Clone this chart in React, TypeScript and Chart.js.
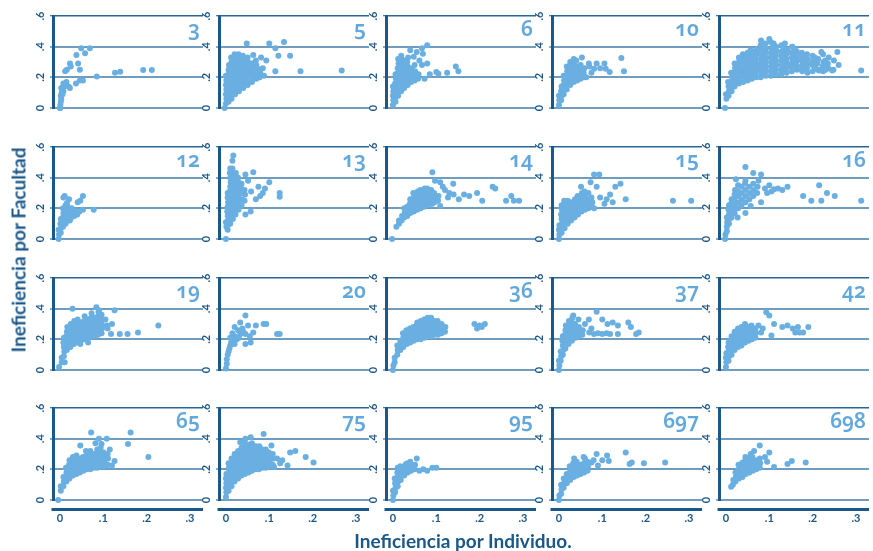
import React, { useEffect, useRef } from 'react';
import { Chart, registerables } from 'chart.js';

Chart.register(...registerables);

const NAVY = '#1b5788';
const TOPLINE = '#2a6596';
const STEEL = '#6f9dbf';
const DOT = '#6aafe1';
const LABEL = '#62a8dd';
const FONT = 'Lato, "Open Sans", "DejaVu Sans", sans-serif';
const LABEL_FONT = '"Noto Sans", "Open Sans", sans-serif';

const yTickValues = [0, 0.2, 0.4, 0.6];
const yTickLabels = ['0', '.2', '.4', '.6'];
const xTickValues = [0, 0.1, 0.2, 0.3];
const xTickLabels = ['0', '.1', '.2', '.3'];
const X_MIN = -0.016;
const X_MAX = 0.33;

const yTitle = 'Ineficiencia por Facultad';
const xTitle = 'Ineficiencia por Individuo.';

// each list: x, y, x, y, ...
const p3 = [0,0, .001,.02, .002,.04, .003,.06, .002,.08, .004,.1, .005,.12, .006,.13, .008,.11, .01,.14, .012,.15, .008,.16, .015,.17, .02,.14, .023,.13, .012,.24, .016,.25, .023,.29, .025,.27, .038,.345, .042,.29, .046,.25, .049,.39, .058,.357, .069,.39, .037,.16, .046,.18, .053,.18, .085,.205, .127,.23, .139,.237, .192,.248, .212,.248, .003,.13, .006,.09, .001,0];

const p5 = [-.003,0, 0,.03, .001,.06, 0,.09, .001,.12, 0,.15, .001,.18, 0,.21,
.006,.04, .006,.07, .007,.1, .006,.13, .005,.16, .007,.19, .006,.22, .006,.25, .007,.28,
.013,.06, .012,.09, .013,.12, .014,.15, .012,.18, .013,.21, .012,.24, .014,.27, .013,.3, .012,.33,
.021,.09, .02,.12, .021,.15, .022,.18, .02,.21, .021,.24, .02,.27, .022,.3, .021,.33, .02,.35,
.03,.11, .029,.14, .03,.17, .031,.2, .029,.23, .03,.26, .031,.29, .03,.32, .029,.35,
.04,.13, .039,.16, .041,.19, .04,.22, .039,.25, .041,.28, .04,.31, .039,.34,
.05,.15, .049,.18, .051,.21, .05,.24, .049,.27, .051,.3, .05,.33,
.06,.17, .061,.2, .059,.23, .06,.26, .061,.29,
.07,.19, .069,.22, .071,.25, .07,.28,
.078,.2, .079,.23,
.048,.42, .1,.42, .134,.43, .114,.39, .148,.34, .121,.34, .093,.31, .114,.24, .172,.24, .267,.245, .081,.33, .069,.31, .075,.255, .088,.21, .085,.26, .063,.345];

const p6 = [0,.02, .001,.05, 0,.08, .001,.11, 0,.14,
.006,.04, .006,.07, .007,.1, .006,.13, .005,.16, .007,.19, .006,.22,
.012,.08, .013,.11, .012,.14, .012,.17, .013,.2, .012,.23, .011,.26, .013,.29, .012,.32,
.019,.11, .02,.14, .019,.17, .018,.2, .02,.23, .019,.26, .019,.29, .02,.32, .019,.34,
.026,.13, .027,.16, .026,.19, .025,.22, .027,.25, .026,.28, .026,.31,
.034,.15, .033,.18, .035,.21, .034,.24, .034,.27, .033,.3, .035,.33,
.042,.17, .041,.2, .043,.23, .042,.26,
.05,.18, .049,.21, .051,.24, .05,.28,
.058,.19, .059,.22,
.079,.41, .067,.39, .055,.365, .04,.376, .069,.354, .061,.31, .079,.29, .067,.28, .1,.235, .105,.224, .125,.23, .145,.27, .151,.24, .073,.19, .048,.335, .085,.22];

const p10 = [0,.02, .001,.05, 0,.08,
.005,.05, .006,.08, .005,.11, .006,.14,
.011,.09, .012,.12, .011,.15, .012,.18, .011,.21,
.018,.12, .019,.15, .018,.18, .017,.21, .019,.24, .018,.27,
.026,.15, .025,.18, .027,.21, .026,.24, .025,.27, .026,.3,
.034,.17, .035,.2, .033,.23, .034,.26, .035,.29, .034,.32,
.042,.18, .041,.21, .043,.24, .042,.27,
.05,.19, .051,.22, .049,.25, .05,.28,
.058,.2, .057,.23, .059,.26,
.053,.33, .069,.29, .087,.29, .105,.29, .108,.256, .117,.235, .144,.326, .15,.24, .081,.256, .063,.2, .075,.23, .095,.26, .07,.27, .04,.31];

const p11 = [-.002,0, .001,.06, 0,.09,
.006,.08, .007,.11, .006,.14, .005,.17,
.013,.11, .012,.14, .013,.17, .014,.2, .012,.23,
.02,.14, .021,.17, .02,.2, .019,.23, .021,.26, .02,.29,
.03,.16, .029,.19, .031,.22, .03,.25, .029,.28, .031,.31, .03,.33,
.04,.17, .041,.2, .039,.23, .04,.26, .041,.29, .04,.32, .039,.35,
.05,.18, .049,.21, .051,.24, .05,.27, .049,.3, .051,.33, .05,.36,
.06,.19, .061,.22, .059,.25, .06,.28, .061,.31, .06,.34, .059,.37,
.07,.2, .069,.23, .071,.26, .07,.29, .069,.32, .071,.35, .07,.38,
.08,.2, .081,.23, .079,.26, .08,.29, .081,.32, .08,.35, .079,.38, .08,.41,
.092,.21, .091,.24, .093,.27, .092,.3, .091,.33, .093,.36, .092,.39, .091,.42,
.104,.21, .103,.24, .105,.27, .104,.3, .103,.33, .105,.36, .104,.39, .103,.43,
.116,.22, .115,.25, .117,.28, .116,.31, .115,.34, .117,.37, .116,.4,
.128,.22, .127,.25, .129,.28, .128,.31, .127,.34, .129,.37, .128,.41,
.14,.23, .139,.26, .141,.29, .14,.32, .139,.35, .141,.38,
.152,.24, .151,.27, .153,.3, .152,.33, .151,.36, .153,.4,
.164,.25, .163,.28, .165,.31, .164,.34, .163,.37,
.176,.24, .175,.27, .177,.3, .176,.33, .175,.36,
.188,.23, .187,.26, .189,.29, .188,.32, .187,.35,
.2,.24, .199,.28, .201,.31, .2,.34,
.212,.25, .211,.29, .213,.32,
.224,.24, .223,.27, .225,.3, .224,.35,
.236,.26, .235,.29, .237,.33,
.248,.25, .249,.31,
.045,.22, .046,.25, .044,.28, .045,.31, .046,.34,
.065,.21, .066,.24, .064,.27, .065,.3, .066,.33, .064,.36,
.086,.22, .087,.25, .085,.28, .086,.31, .087,.34, .085,.37, .086,.4,
.11,.23, .111,.26, .109,.29, .11,.32, .111,.35, .109,.38, .11,.41,
.134,.24, .135,.27, .133,.3, .134,.33, .135,.36, .133,.39,
.158,.26, .159,.29, .157,.32, .158,.35, .159,.38,
.182,.25, .183,.28, .181,.31, .182,.34,
.206,.26, .207,.3, .205,.33,
.23,.25, .231,.28, .229,.31,
.081,.44, .1,.45, .11,.42, .136,.42, .153,.40, .057,.376, .22,.365, .257,.365, .312,.245, .245,.245, .215,.245, .26,.28];

const p12 = [-.003,0, -.002,.03, -.003,.06,
.002,.04, .002,.07, .001,.1, .002,.13,
.007,.08, .006,.11, .007,.14, .008,.17, .007,.2,
.013,.1, .012,.13, .013,.16, .014,.19, .013,.22,
.019,.12, .02,.15, .019,.18, .018,.21,
.026,.14, .025,.17, .027,.2,
.033,.15, .034,.18,
.011,.28, .021,.26, .041,.24, .053,.28, .047,.25, .053,.19, .078,.19, .023,.12, .008,.27, .016,.235, .04,.16, .045,.18];

const p13 = [0,0, .001,.08, 0,.11,
.004,.06, .004,.09, .005,.12, .004,.15, .003,.18, .004,.21, .005,.24, .004,.27, .004,.3,
.01,.1, .011,.13, .01,.16, .009,.19, .01,.22, .011,.25, .01,.28, .009,.31, .01,.34, .011,.37, .01,.4, .009,.43, .01,.46,
.016,.13, .017,.16, .016,.19, .015,.22, .016,.25, .017,.28, .016,.31, .015,.34, .016,.37, .017,.4, .016,.43, .015,.46, .015,.51, .017,.545,
.022,.16, .023,.19, .022,.22, .021,.25, .022,.28, .023,.31, .022,.34, .021,.37, .022,.4, .023,.43,
.029,.19, .03,.22, .029,.25, .028,.28, .029,.31, .03,.34, .029,.37, .028,.4,
.036,.22, .037,.26, .036,.3, .035,.33, .036,.36,
.043,.25, .044,.29, .043,.32,
.045,.42, .063,.435, .051,.38, .075,.34, .1,.37, .124,.30, .124,.275, .079,.28, .057,.18, .045,.16, .069,.26, .058,.31, .085,.3, .09,.33];

const p14 = [-.002,0, .008,.08,
.014,.1, .014,.12,
.02,.12, .021,.15,
.026,.14, .027,.17, .026,.2,
.033,.15, .034,.18, .033,.21,
.04,.17, .041,.2, .039,.23, .04,.26,
.048,.18, .047,.21, .049,.24, .048,.27, .047,.3,
.056,.19, .057,.22, .055,.25, .056,.28, .057,.31,
.064,.2, .063,.23, .065,.26, .064,.29, .063,.32,
.072,.21, .073,.24, .071,.27, .072,.3, .073,.33,
.08,.22, .079,.25, .081,.28, .08,.31, .079,.33,
.088,.23, .089,.26, .087,.29, .088,.32,
.096,.24, .097,.27, .095,.3,
.104,.25, .105,.28,
.091,.435, .097,.38, .109,.37, .139,.36, .164,.29, .176,.28, .194,.3, .206,.25, .23,.34, .236,.33, .261,.25, .273,.28, .279,.25, .291,.25, .127,.27, .109,.215, .091,.23, .152,.26, .12,.32, .13,.3, .14,.29, .115,.34];

const p15 = [0,0, .001,.03, 0,.06, .001,.09,
.006,.04, .006,.07, .007,.1, .006,.13, .005,.16, .007,.19, .006,.22,
.013,.07, .012,.1, .013,.13, .014,.16, .012,.19, .013,.22, .012,.25,
.02,.1, .021,.13, .02,.16, .019,.19, .021,.22, .02,.25,
.028,.12, .027,.15, .029,.18, .028,.21, .027,.24,
.036,.14, .037,.17, .035,.2, .036,.23, .037,.26,
.044,.16, .043,.19, .045,.22, .044,.25, .043,.28,
.052,.18, .053,.21, .051,.24, .052,.27, .053,.3,
.06,.19, .059,.22, .061,.25, .06,.28, .059,.31,
.068,.2, .069,.23, .067,.26, .068,.3,
.076,.21, .077,.24, .075,.27,
.081,.42, .093,.42, .073,.37, .087,.34, .13,.34, .142,.36, .118,.29, .124,.24, .154,.26, .263,.25, .305,.25, .105,.23, .081,.2, .051,.34, .095,.27, .11,.26];

const p16 = [-.002,0, -.001,.03,
.002,.05, .002,.08, .003,.11, .002,.14,
.007,.1, .008,.13, .007,.16, .006,.19, .007,.22,
.013,.14, .014,.17, .013,.2, .012,.23, .013,.26,
.02,.17, .021,.2, .02,.23, .019,.26, .02,.29, .021,.32,
.028,.2, .029,.24, .028,.28, .027,.31, .028,.35,
.036,.22, .037,.26, .036,.3, .035,.34,
.045,.24, .046,.28, .045,.32, .044,.36, .045,.38,
.054,.26, .055,.3, .054,.34,
.063,.28, .064,.32, .063,.36, .063,.43,
.072,.3, .073,.34,
.045,.47, .023,.39, .081,.42, .105,.31, .142,.34, .111,.325, .178,.28, .197,.25, .215,.35, .22,.25, .233,.30, .251,.28, .312,.25, .081,.24, .057,.215, .045,.17, .027,.14, .09,.33, .095,.3, .1,.35, .12,.33, .13,.32, .075,.38];

const p19 = [-.002,.02,
.004,.05, .004,.08,
.009,.09, .01,.12, .009,.15, .008,.18, .009,.21,
.016,.13, .017,.16, .016,.19, .015,.22, .016,.25, .017,.28,
.024,.15, .025,.18, .024,.21, .023,.24, .024,.27, .025,.3,
.032,.17, .033,.2, .032,.23, .031,.26, .032,.29, .033,.32,
.04,.18, .041,.21, .04,.24, .039,.27, .04,.3, .041,.33,
.048,.19, .049,.22, .048,.25, .047,.28, .048,.31,
.056,.2, .057,.23, .056,.26, .055,.29, .056,.32, .057,.35,
.064,.21, .065,.24, .064,.27, .063,.3, .064,.33,
.072,.22, .073,.25, .072,.28, .071,.31, .072,.34, .073,.37,
.08,.22, .081,.25, .08,.28, .079,.31, .08,.34,
.088,.23, .089,.26, .088,.29, .087,.32, .088,.35, .089,.38,
.096,.24, .097,.27, .096,.3, .095,.33, .096,.36,
.029,.40, .084,.41, .09,.39, .126,.39, .12,.30, .108,.29, .18,.245, .227,.29, .156,.235, .138,.235, .118,.235, .065,.18, .047,.17, .011,.05, .105,.33, .11,.27];

const p20 = [0,.01, .002,.04, .002,.07, .004,.1, .006,.12, .008,.14, .01,.16, .012,.18, .015,.2, .02,.22, .02,.28, .033,.31, .045,.355, .051,.29, .069,.29, .087,.30, .093,.30, .118,.235, .124,.235, .063,.245, .057,.18, .045,.17, .033,.235, .045,.235, .028,.26, .038,.27, .025,.2, .03,.21, .015,.24, .01,.21, .04,.25, .055,.22, .02,.17];

const p36 = [0,0, .001,.03,
.004,.05, .004,.08,
.01,.1, .011,.13, .01,.16,
.017,.13, .018,.16, .017,.19,
.024,.15, .025,.18, .024,.21, .023,.24,
.032,.17, .033,.2, .032,.23, .031,.26,
.04,.18, .041,.21, .04,.24, .039,.27,
.048,.19, .049,.22, .048,.25, .047,.28,
.056,.2, .057,.23, .056,.26, .055,.29, .056,.31,
.064,.2, .065,.23, .064,.26, .063,.29, .064,.32,
.072,.21, .073,.24, .072,.27, .071,.3, .072,.33,
.08,.22, .081,.25, .08,.28, .079,.31, .08,.34,
.088,.22, .089,.25, .088,.28, .087,.31, .088,.34,
.096,.23, .097,.26, .096,.29, .095,.32,
.104,.23, .105,.26, .104,.29, .103,.32,
.112,.24, .113,.27, .112,.3,
.12,.25, .121,.28,
.188,.30, .2,.29, .212,.3, .194,.27, .205,.28];

const p37 = [0,0, .001,.03, 0,.06,
.004,.06, .005,.09, .004,.12,
.009,.1, .01,.13, .009,.16, .008,.19, .009,.22,
.015,.14, .016,.17, .015,.2, .014,.23, .015,.26, .016,.29,
.022,.17, .023,.2, .022,.23, .021,.26, .022,.29, .023,.32,
.03,.19, .031,.22, .03,.25, .029,.28, .03,.31, .031,.34,
.038,.21, .039,.24, .038,.27, .037,.3,
.046,.22, .047,.25, .046,.28,
.054,.23, .055,.26,
.087,.38, .069,.33, .1,.33, .112,.30, .124,.31, .136,.29, .16,.31, .166,.28, .178,.235, .184,.245, .081,.235, .1,.235, .118,.235, .136,.235, .033,.355, .045,.33, .06,.3, .075,.27, .09,.24, .11,.24, .07,.245];

const p42 = [0,.02, .001,.05, 0,.08, .001,.11,
.006,.06, .007,.09, .006,.12, .005,.15, .006,.18,
.013,.1, .014,.13, .013,.16, .012,.19, .013,.22,
.02,.13, .021,.16, .02,.19, .019,.22, .02,.25,
.028,.15, .029,.18, .028,.21, .027,.24, .028,.27,
.036,.16, .037,.19, .036,.22, .035,.25, .036,.28,
.044,.18, .045,.21, .044,.24, .043,.27, .044,.3,
.052,.19, .053,.22, .052,.25, .051,.28,
.06,.2, .061,.23, .06,.26, .059,.29,
.068,.21, .069,.24, .068,.27,
.093,.376, .1,.355, .111,.30, .13,.28, .142,.29, .154,.27, .166,.28, .178,.245, .19,.28, .105,.225, .081,.245, .075,.29, .085,.27, .16,.245, .17,.245];

const p65 = [-.004,0,
.002,.06, .002,.09,
.008,.09, .009,.12, .008,.15,
.015,.12, .016,.15, .015,.18, .014,.21,
.022,.14, .023,.17, .022,.2, .021,.23, .022,.26,
.03,.16, .031,.19, .03,.22, .029,.25, .03,.28,
.038,.17, .039,.2, .038,.23, .037,.26, .038,.29,
.046,.18, .047,.21, .046,.24, .045,.27,
.054,.19, .055,.22, .054,.25, .053,.28,
.062,.2, .063,.23, .062,.26, .061,.29,
.07,.2, .071,.23, .07,.26, .069,.29, .07,.32,
.078,.21, .079,.24, .078,.27, .077,.3,
.086,.21, .087,.24, .086,.27, .085,.3, .086,.33,
.094,.22, .095,.25, .094,.28, .093,.31, .094,.34,
.102,.22, .103,.25, .102,.28, .101,.31,
.11,.23, .111,.27, .11,.3,
.072,.44, .163,.44, .157,.365, .204,.28, .09,.40, .108,.40, .096,.365, .126,.255, .108,.225, .12,.225, .047,.355, .115,.33, .082,.37, .06,.32];

const p75 = [0,.02, .001,.05, 0,.08, .001,.11, 0,.14, .001,.17,
.006,.06, .007,.09, .006,.12, .005,.15, .006,.18, .007,.21, .006,.24,
.013,.09, .014,.12, .013,.15, .012,.18, .013,.21, .014,.24, .013,.27,
.02,.12, .021,.15, .02,.18, .019,.21, .02,.24, .021,.27, .02,.3,
.028,.14, .029,.17, .028,.2, .027,.23, .028,.26, .029,.29, .028,.32,
.036,.16, .037,.19, .036,.22, .035,.25, .036,.28, .037,.31, .036,.34,
.044,.17, .045,.2, .044,.23, .043,.26, .044,.29, .045,.32, .044,.35, .043,.38,
.052,.18, .053,.21, .052,.24, .051,.27, .052,.3, .053,.33, .052,.36,
.06,.19, .061,.22, .06,.25, .059,.28, .06,.31, .061,.34, .06,.37,
.068,.2, .069,.23, .068,.26, .067,.29, .068,.32, .069,.35,
.076,.2, .077,.23, .076,.26, .075,.29, .076,.32, .077,.35,
.084,.21, .085,.24, .084,.27, .083,.3, .084,.33,
.092,.21, .093,.24, .092,.27, .091,.3, .092,.33,
.1,.22, .101,.25, .1,.28, .099,.31,
.108,.23, .109,.27, .108,.3,
.087,.43, .057,.41, .045,.4, .033,.376, .148,.31, .16,.32, .184,.28, .202,.245, .142,.225, .111,.215, .118,.27, .105,.355, .125,.24, .13,.26];

const p95 = [0,0, .001,.03, 0,.06,
.005,.05, .006,.08, .005,.11, .004,.14,
.011,.09, .012,.12, .011,.15, .01,.18, .011,.21,
.018,.13, .019,.16, .018,.19, .017,.22,
.026,.16, .027,.19, .026,.22,
.034,.18, .035,.21, .034,.24,
.042,.19, .043,.22,
.05,.2, .051,.23,
.055,.27, .03,.235, .061,.19, .079,.19, .091,.21, .1,.21, .07,.2, .04,.25];

const p697 = [0,0, .001,.03,
.005,.04, .006,.07, .005,.1,
.011,.08, .012,.11, .011,.14,
.018,.11, .019,.14, .018,.17,
.026,.13, .027,.16, .026,.19, .025,.22,
.034,.15, .035,.18, .034,.21, .033,.24,
.042,.16, .043,.19, .042,.22, .041,.25,
.05,.17, .051,.2, .05,.23,
.058,.18, .059,.21, .058,.24,
.066,.19, .067,.22, .066,.25,
.057,.28, .087,.30, .111,.29, .115,.255, .154,.31, .163,.235, .168,.245, .196,.24, .245,.245, .09,.225, .075,.245, .06,.27, .08,.26, .1,.26, .035,.27];

const p698 = [.012,.087,
.016,.1, .017,.13,
.022,.12, .023,.15, .022,.18,
.03,.14, .031,.17, .03,.2, .029,.23,
.038,.15, .039,.18, .038,.21, .037,.24,
.046,.17, .047,.2, .046,.23, .045,.26,
.054,.18, .055,.21, .054,.24, .053,.27,
.062,.19, .063,.22, .062,.25, .061,.28,
.07,.2, .071,.23, .07,.26,
.078,.21, .079,.24, .078,.27,
.078,.355, .1,.31, .057,.30, .111,.215, .142,.235, .152,.255, .184,.245, .039,.245, .065,.32, .09,.28, .095,.25, .045,.28];

const panelLabels = ['3', '5', '6', '10', '11', '12', '13', '14', '15', '16', '19', '20', '36', '37', '42', '65', '75', '95', '697', '698'];
const panelData = [p3, p5, p6, p10, p11, p12, p13, p14, p15, p16, p19, p20, p36, p37, p42, p65, p75, p95, p697, p698];

// layout
const COL_L = [53, 219, 386, 552, 719];
const ROW_T = [16, 147, 278, 408];
const PW = 150;
const PH = 92;
const LEFT_W = 24;

const xAxisLinePlugin = {
  id: 'xAxisLine',
  afterDraw(chart: any) {
    const { ctx, chartArea } = chart;
    ctx.save();
    ctx.strokeStyle = NAVY;
    ctx.lineWidth = 3;
    ctx.beginPath();
    ctx.moveTo(chartArea.left - 1.5, chartArea.bottom + 9.5);
    ctx.lineTo(chartArea.right, chartArea.bottom + 9.5);
    ctx.stroke();
    ctx.restore();
  },
};

function Panel({ idx }: { idx: number }) {
  const ref = useRef<HTMLCanvasElement | null>(null);
  const row = Math.floor(idx / 5);
  const col = idx % 5;
  const bottom = row === 3;
  const cw = LEFT_W + PW + 4;
  const ch = bottom ? 8 + PH + 30 : 8 + PH + 8;

  useEffect(() => {
    const flat = panelData[idx];
    const pts: { x: number; y: number }[] = [];
    for (let i = 0; i < flat.length; i += 2) pts.push({ x: flat[i], y: flat[i + 1] });
    const tickFont = { family: FONT, size: 11, weight: 'bold' as const };
    const xScale: any = {
      type: 'linear',
      min: X_MIN,
      max: X_MAX,
      display: bottom,
      afterBuildTicks: (s: any) => {
        s.ticks = xTickValues.map((v) => ({ value: v }));
      },
      ticks: {
        callback: (_v: any, i: number) => xTickLabels[i],
        minRotation: 0,
        maxRotation: 0,
        padding: 12,
        color: NAVY,
        font: tickFont,
      },
      grid: { display: false, drawTicks: false },
      border: { display: false },
    };
    if (bottom) {
      xScale.afterFit = (s: any) => {
        s.height = 30;
        s.paddingLeft = 0;
        s.paddingRight = 0;
      };
    }
    const chart = new Chart(ref.current as HTMLCanvasElement, {
      type: 'scatter',
      data: {
        datasets: [
          {
            data: pts,
            backgroundColor: DOT,
            borderWidth: 0,
            pointRadius: 3,
            pointHoverRadius: 3,
            clip: false as any,
          },
        ],
      },
      options: {
        responsive: false,
        animation: false,
        devicePixelRatio: 1,
        events: [],
        layout: { padding: { top: 8, right: 4, bottom: bottom ? 0 : 8, left: 0 } },
        plugins: { legend: { display: false }, tooltip: { enabled: false }, title: { display: false } },
        scales: {
          x: xScale,
          y: {
            type: 'linear',
            min: 0,
            max: 0.6,
            afterBuildTicks: (s: any) => {
              s.ticks = yTickValues.map((v) => ({ value: v }));
            },
            afterFit: (s: any) => {
              s.width = LEFT_W;
              s.paddingTop = 0;
              s.paddingBottom = 0;
            },
            ticks: {
              callback: (_v: any, i: number) => yTickLabels[i],
              minRotation: 90,
              maxRotation: 90,
              crossAlign: 'center',
              padding: 5,
              color: NAVY,
              font: tickFont,
            },
            grid: {
              color: (c: any) => (c.tick && c.tick.value === 0.6 ? TOPLINE : STEEL),
              lineWidth: (c: any) => (c.tick && c.tick.value === 0.6 ? 1.5 : 2),
              drawTicks: true,
              tickLength: 3,
              tickColor: NAVY,
              tickWidth: 1,
            },
            border: { display: true, color: NAVY, width: 3 },
          },
        },
      },
      plugins: bottom ? [xAxisLinePlugin] : [],
    } as any);
    return () => chart.destroy();
  }, [idx]);

  return (
    <>
      <canvas
        ref={ref}
        width={cw}
        height={ch}
        style={{ position: 'absolute', left: COL_L[col] - LEFT_W, top: ROW_T[row] - 8, width: cw, height: ch }}
      />
      <div
        style={{
          position: 'absolute',
          left: COL_L[col],
          top: ROW_T[row] + 1,
          width: PW - 3,
          textAlign: 'right',
          fontFamily: LABEL_FONT,
          fontSize: 21,
          fontWeight: 600,
          lineHeight: '22px',
          color: LABEL,
          fontVariantNumeric: 'oldstyle-nums',
        }}
      >
        {panelLabels[idx]}
      </div>
    </>
  );
}

export default function App() {
  return (
    <div
      style={{
        position: 'absolute',
        left: 0,
        top: 0,
        width: 873,
        height: 551,
        background: '#ffffff',
        overflow: 'hidden',
      }}
    >
      {panelLabels.map((_, i) => (
        <Panel key={i} idx={i} />
      ))}
      <div
        style={{
          position: 'absolute',
          left: 18,
          top: 250,
          transform: 'translate(-50%, -50%) rotate(-90deg)',
          whiteSpace: 'nowrap',
          fontFamily: FONT,
          fontWeight: 'bold',
          fontSize: 19,
          color: NAVY,
        }}
      >
        {yTitle}
      </div>
      <div
        style={{
          position: 'absolute',
          left: 463,
          top: 540,
          transform: 'translate(-50%, -50%)',
          whiteSpace: 'nowrap',
          fontFamily: FONT,
          fontWeight: 'bold',
          fontSize: 19,
          color: NAVY,
        }}
      >
        {xTitle}
      </div>
    </div>
  );
}
